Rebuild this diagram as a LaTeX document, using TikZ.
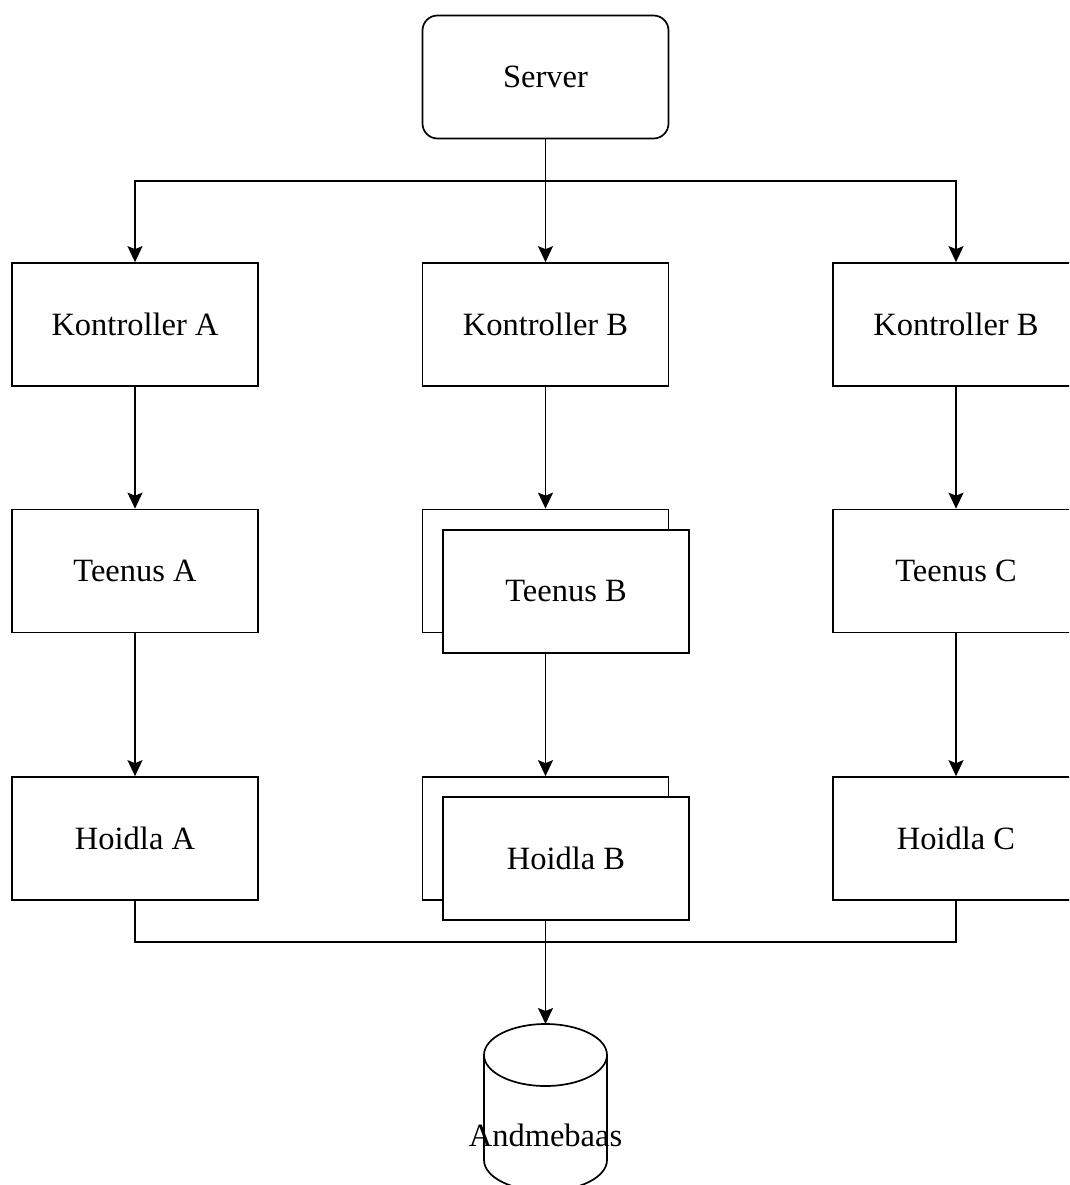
\documentclass[tikz,border=0pt]{standalone}
\usepackage{fontspec}
\setmainfont{Liberation Serif}
\usetikzlibrary{arrows.meta}

\begin{document}
\begin{tikzpicture}[x=1pt, y=-1pt, line width=1.7pt,
    box/.style={draw, minimum width=246pt, minimum height=123pt,
        font=\fontsize{32.5}{39}\selectfont},
    backbox/.style={draw, minimum width=246pt, minimum height=123pt},
    arr/.style={-{Stealth[length=16pt, width=15pt, inset=3pt]}}]
    % Pildi piirid
    \useasboundingbox (0,0) rectangle (1069,1185);
    \clip (0,0) rectangle (1069,1185);
    % Server
    \node[box, rounded corners=15pt] (srv) at (545.5,77) {Server};
    % Kontrollerid
    \node[box] (ka) at (135,324.5) {Kontroller A};
    \node[box] (kb) at (545.5,324.5) {Kontroller B};
    \node[box] (kc) at (956,324.5) {Kontroller B};
    % Teenused (B on mitmekordne)
    \node[box] (ta) at (135,571) {Teenus A};
    \node[backbox] (tb2) at (545.5,571) {};
    \node[box, fill=white] (tb) at (566,591.5) {Teenus B};
    \node[box] (tc) at (956,571) {Teenus C};
    % Hoidlad
    \node[box] (ha) at (135,838.5) {Hoidla A};
    \node[backbox] (hb2) at (545.5,838.5) {};
    \node[box, fill=white] (hb) at (566,858.5) {Hoidla B};
    \node[box] (hc) at (956,838.5) {Hoidla C};
    % Andmebaas (silinder)
    \coordinate (dbtop) at (545.5,1024);
    \draw (545.5,1055) ellipse [x radius=61.5pt, y radius=31pt];
    \draw (484,1055) -- (484,1160)
        arc [start angle=180, end angle=360, x radius=61.5pt, y radius=31pt]
        -- (607,1055);
    \node[font=\fontsize{32.5}{39}\selectfont] (db) at (545.5,1135) {Andmebaas};
    % Noolid
    \draw[arr] (srv) -- (kb);
    \draw[arr] (srv.south) -- ++(0,42) -| (ka);
    \draw[arr] (srv.south) -- ++(0,42) -| (kc);
    \draw[arr] (ka) -- (ta);
    \draw[arr] (ta) -- (ha);
    \draw[arr] (kb) -- (tb2);
    \draw[arr] (tb.south -| hb2.north) -- (hb2);
    \draw[arr] (kc) -- (tc);
    \draw[arr] (tc) -- (hc);
    % Hoidlad andmebaasi
    \draw (ha.south) -- ++(0,41) -| (hc.south);
    \draw[arr] (hb.south -| dbtop) -- (dbtop);
\end{tikzpicture}
\end{document}
